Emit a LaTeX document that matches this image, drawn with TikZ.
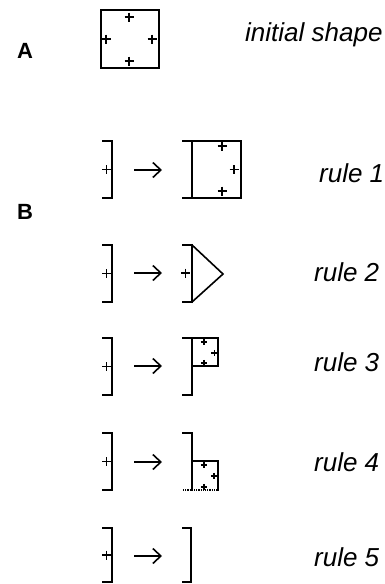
\documentclass[tikz,border=0pt]{standalone}
\usepackage{fontspec}
\setmainfont{Liberation Sans}
\usetikzlibrary{arrows.meta}
\tikzset{
  shp/.style={line width=1.6pt, line cap=rect},
  mk/.style={line width=1.3pt},
  rarrow/.style={line width=1.6pt, -{Straight Barb[length=8pt,width=15pt,line width=1.6pt]}},
  lbl/.style={font=\fontsize{26}{30}\selectfont\itshape, anchor=west, inner sep=0pt},
  big/.style={font=\fontsize{22}{26}\selectfont\bfseries, inner sep=0pt},
  pls/.pic={\draw[mk] (-4.5,0)--(4.5,0) (0,-4.5)--(0,4.5);},
  spls/.pic={\draw[mk] (-3.2,0)--(3.2,0) (0,-3.2)--(0,3.2);}
}
\begin{document}
\begin{tikzpicture}[x=1pt,y=-1pt]
\useasboundingbox (0,0) rectangle (385,584);
% A
\node[big] (lA) at (25,51) {A};
\draw[shp] (101,10) rectangle (159,68);
\pic at (129,17) {pls};
\pic at (106,39) {pls};
\pic at (152,39) {pls};
\pic at (129,61) {pls};
\node[lbl] (tinit) at (245,35) {initial shape};
% B
\node[big] (lB) at (25,212) {B};
% left brackets
\foreach \t/\b in {141/198, 245/302, 338/395, 433/490, 528/582}{
  \draw[shp] (103,\t) -- (112,\t) -- (112,\b) -- (103,\b);
  \pic at (106.5,{(\t+\b)/2}) {pls};
}
% arrows
\foreach \m [count=\i] in {170,273,366,462,556}{
  \coordinate (s\i) at (134,\m);
  \coordinate (e\i) at (162,\m);
  \draw[rarrow] (s\i) -- (e\i);
}
% rule 1
\draw[shp] (183,141) -- (241,141) -- (241,198) -- (183,198);
\draw[shp] (192,141) -- (192,198);
\pic at (222,146) {pls};
\pic at (234,169.5) {pls};
\pic at (222,191) {pls};
% rule 2
\draw[shp] (183,245) -- (192,245) -- (192,302) -- (183,302);
\draw[shp] (192,245) -- (223,274) -- (192,302);
\pic at (185.5,273) {pls};
% rule 3
\draw[shp] (183,338) -- (218,338) -- (218,366) -- (192,366);
\draw[shp] (192,338) -- (192,395) -- (183,395);
\pic at (204,342) {spls};
\pic at (214.5,353) {spls};
\pic at (204,363) {spls};
% rule 4
\draw[shp] (183,433) -- (192,433) -- (192,490);
\draw[shp] (192,461) -- (218,461) -- (218,490);
\draw[line width=1.2pt, densely dotted] (183,490) -- (218,490);
\pic at (204,465) {spls};
\pic at (214,476) {spls};
\pic at (204,487) {spls};
% rule 5
\draw[shp] (183,528) -- (191,528) -- (191,582) -- (183,582);
% labels
\node[lbl] (t1) at (319,173) {rule 1};
\node[lbl] (t2) at (314,272) {rule 2};
\node[lbl] (t3) at (314,362) {rule 3};
\node[lbl] (t4) at (314,462) {rule 4};
\node[lbl] (t5) at (314,557) {rule 5};
\end{tikzpicture}
\end{document}
